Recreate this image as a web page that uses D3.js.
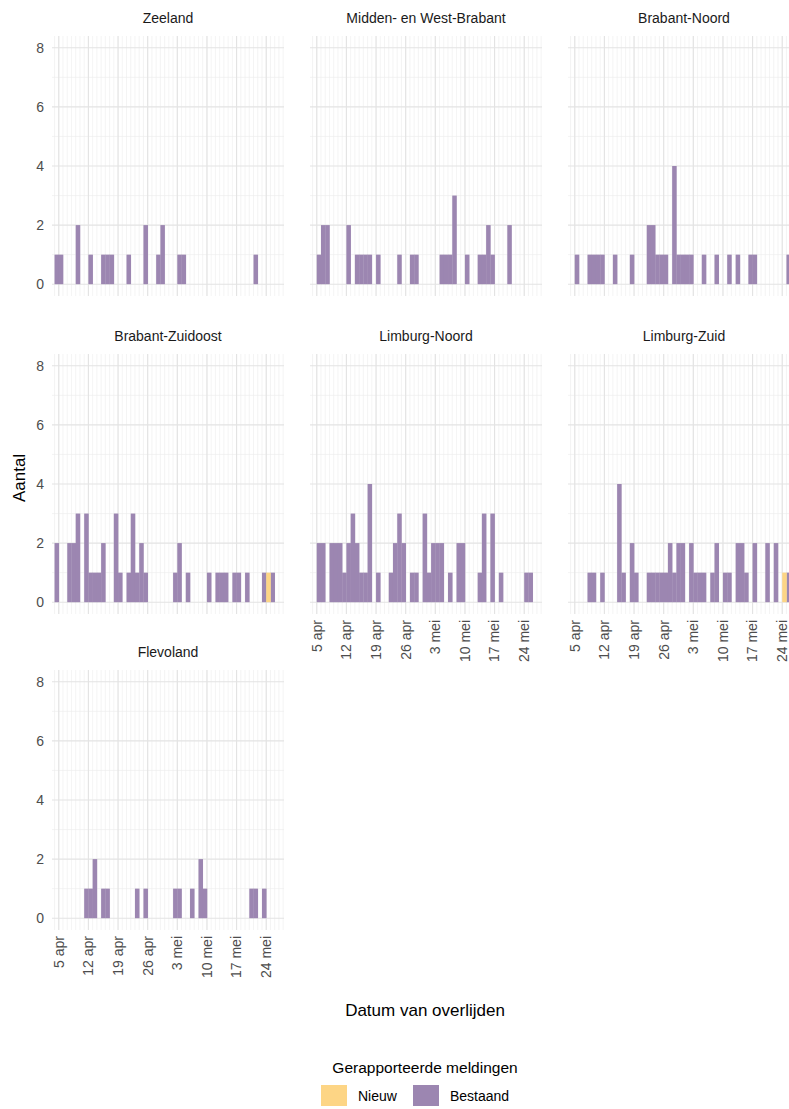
<!DOCTYPE html>
<html>
<head>
<meta charset="utf-8">
<script src="https://cdn.jsdelivr.net/npm/d3@7"></script>
<style>
  body { margin: 0; background: #fff; }
  svg { font-family: "Liberation Sans", Arial, sans-serif; display: block; }
</style>
</head>
<body>
<div id="chart"></div>
<script>
// Day offsets are counted from 5 April
const regions = ['Zeeland', 'Midden- en West-Brabant', 'Brabant-Noord',
    'Brabant-Zuidoost', 'Limburg-Noord', 'Limburg-Zuid', 'Flevoland'];

// [day, count] for existing reports (Bestaand)
const bestaand = {
    'Zeeland': [[-1,1],[0,1],[4,2],[7,1],[10,1],[11,1],[12,1],[16,1],[20,2],[23,1],[24,2],[28,1],[29,1],[46,1]],
    'Midden- en West-Brabant': [[0,1],[1,2],[2,2],[7,2],[9,1],[10,1],[11,1],[12,1],[14,1],[19,1],[22,1],[23,1],[29,1],[30,1],[31,1],[32,3],[35,1],[38,1],[39,1],[40,2],[41,1],[45,2]],
    'Brabant-Noord': [[0,1],[3,1],[4,1],[5,1],[6,1],[9,1],[13,1],[17,2],[18,2],[19,1],[20,1],[21,1],[23,4],[24,1],[25,1],[26,1],[27,1],[30,1],[33,1],[36,1],[38,1],[41,1],[42,1],[50,1]],
    'Brabant-Zuidoost': [[-1,2],[2,2],[3,2],[4,3],[6,3],[7,1],[8,1],[9,1],[10,2],[13,3],[14,1],[16,1],[17,3],[18,1],[19,2],[20,1],[27,1],[28,2],[30,1],[35,1],[37,1],[38,1],[39,1],[41,1],[42,1],[44,1],[48,1],[50,1]],
    'Limburg-Noord': [[0,2],[1,2],[3,2],[4,2],[5,2],[6,1],[7,2],[8,3],[9,2],[10,1],[11,1],[12,4],[14,1],[17,1],[18,2],[19,3],[20,2],[22,1],[23,1],[25,3],[26,1],[27,2],[28,2],[29,2],[31,1],[33,2],[34,2],[38,1],[39,3],[41,3],[43,1],[49,1],[50,1]],
    'Limburg-Zuid': [[3,1],[4,1],[6,1],[10,4],[11,1],[13,2],[14,1],[17,1],[18,1],[19,1],[20,1],[21,1],[22,2],[23,1],[24,2],[25,2],[27,2],[28,1],[29,1],[30,1],[32,1],[33,2],[35,1],[36,1],[38,2],[39,2],[40,1],[42,2],[45,2],[47,2],[50,1]],
    'Flevoland': [[6,1],[7,1],[8,2],[10,1],[11,1],[18,1],[20,1],[27,1],[28,1],[31,1],[33,2],[34,1],[45,1],[46,1],[48,1]]
};

// [day, count] for new reports (Nieuw)
const nieuw = {
    'Brabant-Zuidoost': [[49,1]],
    'Limburg-Zuid': [[49,1]]
};

const tickDays = [0, 7, 14, 21, 28, 35, 42, 49];
const tickLabels = ['5 apr', '12 apr', '19 apr', '26 apr', '3 mei', '10 mei', '17 mei', '24 mei'];
const yTicks = [0, 2, 4, 6, 8];

const colors = { Nieuw: '#fdd585', Bestaand: '#9c86b1' };

const W = 789, H = 1109;
const svg = d3.select('#chart').append('svg').attr('width', W).attr('height', H);

const panelW = 232;
const colX = [52, 310, 568];
const rowTop = [36, 354, 670];
const panelH = 260;

const x = d3.scaleLinear().domain([-1.6, 53.2]).range([0, panelW]);
const y = d3.scaleLinear().domain([-0.4, 8.4]).range([panelH, 0]);

regions.forEach((name, i) => {
    const col = i % 3, row = Math.floor(i / 3);
    const g = svg.append('g').attr('transform', `translate(${colX[col]},${rowTop[row]})`);

    // Minor grid: every day and odd counts
    g.selectAll('.vminor').data(d3.range(-1, 54)).enter().append('line')
        .attr('x1', d => x(d)).attr('x2', d => x(d))
        .attr('y1', 0).attr('y2', panelH)
        .attr('stroke', '#ececec').attr('stroke-width', 0.6);
    g.selectAll('.hminor').data([1, 3, 5, 7]).enter().append('line')
        .attr('x1', 0).attr('x2', panelW)
        .attr('y1', d => y(d)).attr('y2', d => y(d))
        .attr('stroke', '#ececec').attr('stroke-width', 0.6);
    // Major grid
    g.selectAll('.vmajor').data(tickDays).enter().append('line')
        .attr('x1', d => x(d)).attr('x2', d => x(d))
        .attr('y1', 0).attr('y2', panelH)
        .attr('stroke', '#e3e3e3').attr('stroke-width', 1.1);
    g.selectAll('.hmajor').data(yTicks).enter().append('line')
        .attr('x1', 0).attr('x2', panelW)
        .attr('y1', d => y(d)).attr('y2', d => y(d))
        .attr('stroke', '#e3e3e3').attr('stroke-width', 1.1);

    // Bars
    const bw = x(1) - x(0);
    g.selectAll('.bar').data(bestaand[name] || []).enter().append('rect')
        .attr('x', d => x(d[0])).attr('width', bw + 0.3)
        .attr('y', d => y(d[1])).attr('height', d => y(0) - y(d[1]))
        .attr('fill', colors.Bestaand);
    g.selectAll('.barn').data(nieuw[name] || []).enter().append('rect')
        .attr('x', d => x(d[0])).attr('width', bw + 0.3)
        .attr('y', d => y(d[1])).attr('height', d => y(0) - y(d[1]))
        .attr('fill', colors.Nieuw);

    // Strip title
    g.append('text').attr('x', panelW / 2).attr('y', -13)
        .attr('text-anchor', 'middle').attr('font-size', 14).attr('fill', '#1a1a1a')
        .text(name);

    // Y axis labels on first column
    if (col === 0) {
        g.selectAll('.ylab').data(yTicks).enter().append('text')
            .attr('x', -8).attr('y', d => y(d)).attr('dy', '0.35em')
            .attr('text-anchor', 'end').attr('font-size', 14).attr('fill', '#4d4d4d')
            .text(d => d);
    }

    // X axis labels on bottom panel of each column
    const isBottom = (row === 2) || (row === 1 && col > 0);
    if (isBottom) {
        g.selectAll('.xlab').data(tickDays).enter().append('text')
            .attr('transform', d => `translate(${x(d)},${panelH + 6}) rotate(-90)`)
            .attr('dy', '0.35em')
            .attr('text-anchor', 'end').attr('font-size', 14).attr('fill', '#4d4d4d')
            .text((d, j) => tickLabels[j]);
    }
});

// Axis titles
svg.append('text').attr('transform', 'translate(25,478) rotate(-90)')
    .attr('text-anchor', 'middle').attr('font-size', 17).attr('fill', '#000').text('Aantal');
svg.append('text').attr('x', 425).attr('y', 1016)
    .attr('text-anchor', 'middle').attr('font-size', 17).attr('fill', '#000').text('Datum van overlijden');

// Legend
svg.append('text').attr('x', 425).attr('y', 1073)
    .attr('text-anchor', 'middle').attr('font-size', 15.5).attr('fill', '#000').text('Gerapporteerde meldingen');
const legendItems = [
    { key: 'Nieuw', x: 321 },
    { key: 'Bestaand', x: 413 }
];
const lg = svg.selectAll('.leg').data(legendItems).enter().append('g')
    .attr('transform', d => `translate(${d.x},1085)`);
lg.append('rect').attr('width', 26).attr('height', 21).attr('fill', d => colors[d.key]);
lg.append('text').attr('x', 37).attr('y', 11).attr('dy', '0.35em')
    .attr('font-size', 14).attr('fill', '#000').text(d => d.key);
</script>
</body>
</html>
